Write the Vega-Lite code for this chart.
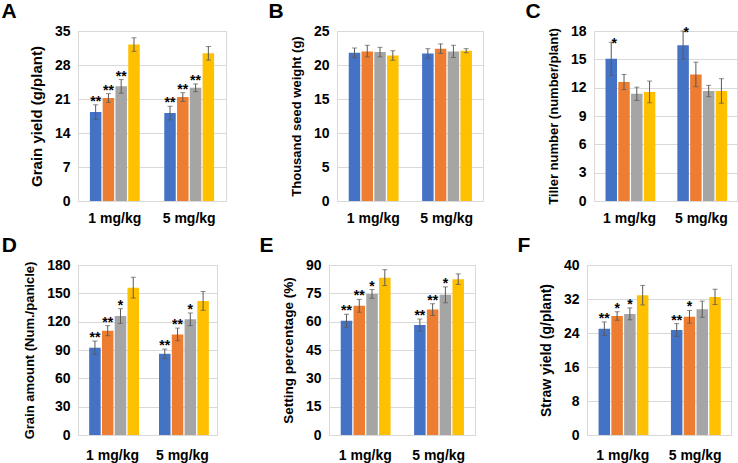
{
  "$schema": "https://vega.github.io/schema/vega-lite/v6.json",
  "padding": {"left": 0, "top": 0, "right": 0, "bottom": 0},
  "background": "white",
  "config": {
    "font": "Liberation Sans",
    "view": {"stroke": "#d9d9d9", "strokeWidth": 1},
    "axis": {"labelFont": "Liberation Sans", "labelFontWeight": "bold", "labelFontSize": 14, "labelColor": "#000000", "titleFont": "Liberation Sans", "titleFontWeight": "bold", "titleFontSize": 13.5, "titleColor": "#000000", "ticks": false, "domain": false, "gridColor": "#d9d9d9", "labelOverlap": false, "labelFlush": false},
    "axisX": {"grid": false, "labelAngle": 0, "title": null, "labelPadding": 10},
    "axisY": {"labelPadding": 8, "titlePadding": 10, "labelOverlap": false, "labelSeparation": 0},
    "title": {"font": "Liberation Sans", "fontSize": 21, "fontWeight": "bold", "anchor": "start", "frame": "bounds", "dx": -22, "offset": 2, "color": "#000000"},
    "concat": {"spacing": 40}
  },
  "datasets": {
    "d": [
      {"p": "A", "dose": "1 mg/kg", "s": 1, "v": 18.3, "lo": 16.8, "hi": 19.8, "star": "**"},
      {"p": "A", "dose": "1 mg/kg", "s": 2, "v": 21.2, "lo": 20.3, "hi": 22.1, "star": "**"},
      {"p": "A", "dose": "1 mg/kg", "s": 3, "v": 23.6, "lo": 22.2, "hi": 25.0, "star": "**"},
      {"p": "A", "dose": "1 mg/kg", "s": 4, "v": 32.2, "lo": 30.8, "hi": 33.6, "star": ""},
      {"p": "A", "dose": "5 mg/kg", "s": 1, "v": 18.1, "lo": 16.7, "hi": 19.5, "star": "**"},
      {"p": "A", "dose": "5 mg/kg", "s": 2, "v": 21.4, "lo": 20.5, "hi": 22.3, "star": "**"},
      {"p": "A", "dose": "5 mg/kg", "s": 3, "v": 23.3, "lo": 22.5, "hi": 24.1, "star": "**"},
      {"p": "A", "dose": "5 mg/kg", "s": 4, "v": 30.4, "lo": 29.0, "hi": 31.8, "star": ""},
      {"p": "B", "dose": "1 mg/kg", "s": 1, "v": 21.8, "lo": 21.1, "hi": 22.5, "star": ""},
      {"p": "B", "dose": "1 mg/kg", "s": 2, "v": 22.0, "lo": 21.2, "hi": 22.9, "star": ""},
      {"p": "B", "dose": "1 mg/kg", "s": 3, "v": 21.9, "lo": 21.2, "hi": 22.6, "star": ""},
      {"p": "B", "dose": "1 mg/kg", "s": 4, "v": 21.4, "lo": 20.7, "hi": 22.1, "star": ""},
      {"p": "B", "dose": "5 mg/kg", "s": 1, "v": 21.7, "lo": 21.0, "hi": 22.4, "star": ""},
      {"p": "B", "dose": "5 mg/kg", "s": 2, "v": 22.4, "lo": 21.7, "hi": 23.1, "star": ""},
      {"p": "B", "dose": "5 mg/kg", "s": 3, "v": 22.0, "lo": 21.1, "hi": 22.9, "star": ""},
      {"p": "B", "dose": "5 mg/kg", "s": 4, "v": 22.1, "lo": 21.8, "hi": 22.4, "star": ""},
      {"p": "C", "dose": "1 mg/kg", "s": 1, "v": 15.05, "lo": 13.3, "hi": 16.8, "star": "*"},
      {"p": "C", "dose": "1 mg/kg", "s": 2, "v": 12.6, "lo": 11.8, "hi": 13.4, "star": ""},
      {"p": "C", "dose": "1 mg/kg", "s": 3, "v": 11.35, "lo": 10.65, "hi": 12.05, "star": ""},
      {"p": "C", "dose": "1 mg/kg", "s": 4, "v": 11.55, "lo": 10.4, "hi": 12.7, "star": ""},
      {"p": "C", "dose": "5 mg/kg", "s": 1, "v": 16.5, "lo": 15.0, "hi": 18.0, "star": "*"},
      {"p": "C", "dose": "5 mg/kg", "s": 2, "v": 13.4, "lo": 12.1, "hi": 14.7, "star": ""},
      {"p": "C", "dose": "5 mg/kg", "s": 3, "v": 11.65, "lo": 11.05, "hi": 12.25, "star": ""},
      {"p": "C", "dose": "5 mg/kg", "s": 4, "v": 11.65, "lo": 10.35, "hi": 12.95, "star": ""},
      {"p": "D", "dose": "1 mg/kg", "s": 1, "v": 92.5, "lo": 85.5, "hi": 99.5, "star": "**"},
      {"p": "D", "dose": "1 mg/kg", "s": 2, "v": 110.5, "lo": 105.2, "hi": 115.8, "star": "**"},
      {"p": "D", "dose": "1 mg/kg", "s": 3, "v": 126.0, "lo": 118.2, "hi": 133.8, "star": "*"},
      {"p": "D", "dose": "1 mg/kg", "s": 4, "v": 156.0, "lo": 145.0, "hi": 167.0, "star": ""},
      {"p": "D", "dose": "5 mg/kg", "s": 1, "v": 86.0, "lo": 81.0, "hi": 91.0, "star": "**"},
      {"p": "D", "dose": "5 mg/kg", "s": 2, "v": 106.5, "lo": 99.8, "hi": 113.2, "star": "**"},
      {"p": "D", "dose": "5 mg/kg", "s": 3, "v": 122.5, "lo": 115.8, "hi": 129.2, "star": "*"},
      {"p": "D", "dose": "5 mg/kg", "s": 4, "v": 142.0, "lo": 132.0, "hi": 152.0, "star": ""},
      {"p": "E", "dose": "1 mg/kg", "s": 1, "v": 60.5, "lo": 57.1, "hi": 63.9, "star": "**"},
      {"p": "E", "dose": "1 mg/kg", "s": 2, "v": 68.4, "lo": 65.0, "hi": 71.8, "star": "**"},
      {"p": "E", "dose": "1 mg/kg", "s": 3, "v": 74.7, "lo": 72.4, "hi": 77.0, "star": "*"},
      {"p": "E", "dose": "1 mg/kg", "s": 4, "v": 83.3, "lo": 79.1, "hi": 87.5, "star": ""},
      {"p": "E", "dose": "5 mg/kg", "s": 1, "v": 58.2, "lo": 55.0, "hi": 61.4, "star": "**"},
      {"p": "E", "dose": "5 mg/kg", "s": 2, "v": 66.4, "lo": 63.3, "hi": 69.5, "star": "**"},
      {"p": "E", "dose": "5 mg/kg", "s": 3, "v": 74.2, "lo": 70.0, "hi": 78.4, "star": "*"},
      {"p": "E", "dose": "5 mg/kg", "s": 4, "v": 82.5, "lo": 79.7, "hi": 85.3, "star": ""},
      {"p": "F", "dose": "1 mg/kg", "s": 1, "v": 25.0, "lo": 23.4, "hi": 26.6, "star": "**"},
      {"p": "F", "dose": "1 mg/kg", "s": 2, "v": 28.0, "lo": 27.0, "hi": 29.0, "star": "*"},
      {"p": "F", "dose": "1 mg/kg", "s": 3, "v": 28.5, "lo": 27.1, "hi": 29.9, "star": "*"},
      {"p": "F", "dose": "1 mg/kg", "s": 4, "v": 32.9, "lo": 30.6, "hi": 35.2, "star": ""},
      {"p": "F", "dose": "5 mg/kg", "s": 1, "v": 24.7, "lo": 23.2, "hi": 26.2, "star": "**"},
      {"p": "F", "dose": "5 mg/kg", "s": 2, "v": 27.8, "lo": 26.3, "hi": 29.3, "star": "*"},
      {"p": "F", "dose": "5 mg/kg", "s": 3, "v": 29.6, "lo": 27.7, "hi": 31.5, "star": ""},
      {"p": "F", "dose": "5 mg/kg", "s": 4, "v": 32.5, "lo": 30.7, "hi": 34.3, "star": ""}
    ]
  },
  "vconcat": [
    {
      "hconcat": [
        {
          "title": {"text": "A", "dx": -28},
          "width": 148, "height": 170,
          "data": {"name": "d"},
          "transform": [{"filter": "datum.p == 'A'"}],
          "encoding": {
            "x": {"field": "dose", "type": "nominal", "scale": {"paddingInner": 0.33, "paddingOuter": 0.16}},
            "xOffset": {"field": "s", "type": "nominal", "scale": {"paddingInner": 0.1}}
          },
          "layer": [
            {"mark": {"type": "bar"}, "encoding": {
              "y": {"field": "v", "type": "quantitative", "scale": {"domain": [0, 35], "nice": false}, "axis": {"values": [0, 7, 14, 21, 28, 35], "labelOverlap": false, "tickCount": 6, "title": "Grain yield (g/plant)", "titleFontSize": 15}},
              "color": {"field": "s", "type": "nominal", "scale": {"range": ["#4472C4", "#ED7D31", "#A5A5A5", "#FFC000"]}, "legend": null}}},
            {"mark": {"type": "rule", "color": "#595959", "strokeWidth": 1}, "encoding": {"y": {"field": "lo", "type": "quantitative"}, "y2": {"field": "hi"}}},
            {"mark": {"type": "tick", "color": "#595959", "size": 5, "thickness": 1}, "encoding": {"y": {"field": "lo", "type": "quantitative"}}},
            {"mark": {"type": "tick", "color": "#595959", "size": 5, "thickness": 1}, "encoding": {"y": {"field": "hi", "type": "quantitative"}}},
            {"mark": {"type": "text", "fontSize": 14, "fontWeight": "bold", "baseline": "alphabetic", "dy": 1, "color": "#000000"}, "encoding": {"y": {"field": "hi", "type": "quantitative"}, "text": {"field": "star"}}}
          ]
        },
        {
          "title": "B",
          "width": 146, "height": 170,
          "data": {"name": "d"},
          "transform": [{"filter": "datum.p == 'B'"}],
          "encoding": {
            "x": {"field": "dose", "type": "nominal", "scale": {"paddingInner": 0.33, "paddingOuter": 0.16}},
            "xOffset": {"field": "s", "type": "nominal", "scale": {"paddingInner": 0.1}}
          },
          "layer": [
            {"mark": {"type": "bar"}, "encoding": {
              "y": {"field": "v", "type": "quantitative", "scale": {"domain": [0, 25], "nice": false}, "axis": {"values": [0, 5, 10, 15, 20, 25], "labelOverlap": false, "tickCount": 6, "title": "Thousand seed weight (g)", "titleFontSize": 13}},
              "color": {"field": "s", "type": "nominal", "scale": {"range": ["#4472C4", "#ED7D31", "#A5A5A5", "#FFC000"]}, "legend": null}}},
            {"mark": {"type": "rule", "color": "#595959", "strokeWidth": 1}, "encoding": {"y": {"field": "lo", "type": "quantitative"}, "y2": {"field": "hi"}}},
            {"mark": {"type": "tick", "color": "#595959", "size": 5, "thickness": 1}, "encoding": {"y": {"field": "lo", "type": "quantitative"}}},
            {"mark": {"type": "tick", "color": "#595959", "size": 5, "thickness": 1}, "encoding": {"y": {"field": "hi", "type": "quantitative"}}}
          ]
        },
        {
          "title": "C",
          "width": 143, "height": 170,
          "data": {"name": "d"},
          "transform": [{"filter": "datum.p == 'C'"}],
          "encoding": {
            "x": {"field": "dose", "type": "nominal", "scale": {"paddingInner": 0.33, "paddingOuter": 0.16}},
            "xOffset": {"field": "s", "type": "nominal", "scale": {"paddingInner": 0.1}}
          },
          "layer": [
            {"mark": {"type": "bar"}, "encoding": {
              "y": {"field": "v", "type": "quantitative", "scale": {"domain": [0, 18], "nice": false}, "axis": {"values": [0, 3, 6, 9, 12, 15, 18], "labelOverlap": false, "tickCount": 7, "title": "Tiller number (number/plant)", "titleFontSize": 13}},
              "color": {"field": "s", "type": "nominal", "scale": {"range": ["#4472C4", "#ED7D31", "#A5A5A5", "#FFC000"]}, "legend": null}}},
            {"mark": {"type": "rule", "color": "#595959", "strokeWidth": 1}, "encoding": {"y": {"field": "lo", "type": "quantitative"}, "y2": {"field": "hi"}}},
            {"mark": {"type": "tick", "color": "#595959", "size": 5, "thickness": 1}, "encoding": {"y": {"field": "lo", "type": "quantitative"}}},
            {"mark": {"type": "tick", "color": "#595959", "size": 5, "thickness": 1}, "encoding": {"y": {"field": "hi", "type": "quantitative"}}},
            {"mark": {"type": "text", "fontSize": 14, "fontWeight": "bold", "baseline": "alphabetic", "dy": 6, "dx": 3, "color": "#000000"}, "encoding": {"y": {"field": "hi", "type": "quantitative"}, "text": {"field": "star"}}}
          ]
        }
      ]
    },
    {
      "hconcat": [
        {
          "title": "D",
          "width": 139, "height": 170,
          "data": {"name": "d"},
          "transform": [{"filter": "datum.p == 'D'"}],
          "encoding": {
            "x": {"field": "dose", "type": "nominal", "scale": {"paddingInner": 0.33, "paddingOuter": 0.16}, "axis": {"labelPadding": 13}},
            "xOffset": {"field": "s", "type": "nominal", "scale": {"paddingInner": 0.1}}
          },
          "layer": [
            {"mark": {"type": "bar"}, "encoding": {
              "y": {"field": "v", "type": "quantitative", "scale": {"domain": [0, 180], "nice": false}, "axis": {"values": [0, 30, 60, 90, 120, 150, 180], "labelOverlap": false, "tickCount": 7, "title": "Grain amount (Num./panicle)", "titleFontSize": 13}},
              "color": {"field": "s", "type": "nominal", "scale": {"range": ["#4472C4", "#ED7D31", "#A5A5A5", "#FFC000"]}, "legend": null}}},
            {"mark": {"type": "rule", "color": "#595959", "strokeWidth": 1}, "encoding": {"y": {"field": "lo", "type": "quantitative"}, "y2": {"field": "hi"}}},
            {"mark": {"type": "tick", "color": "#595959", "size": 5, "thickness": 1}, "encoding": {"y": {"field": "lo", "type": "quantitative"}}},
            {"mark": {"type": "tick", "color": "#595959", "size": 5, "thickness": 1}, "encoding": {"y": {"field": "hi", "type": "quantitative"}}},
            {"mark": {"type": "text", "fontSize": 14, "fontWeight": "bold", "baseline": "alphabetic", "dy": 1, "color": "#000000"}, "encoding": {"y": {"field": "hi", "type": "quantitative"}, "text": {"field": "star"}}}
          ]
        },
        {
          "title": "E",
          "width": 146, "height": 170,
          "data": {"name": "d"},
          "transform": [{"filter": "datum.p == 'E'"}],
          "encoding": {
            "x": {"field": "dose", "type": "nominal", "scale": {"paddingInner": 0.33, "paddingOuter": 0.16}, "axis": {"labelPadding": 13}},
            "xOffset": {"field": "s", "type": "nominal", "scale": {"paddingInner": 0.1}}
          },
          "layer": [
            {"mark": {"type": "bar"}, "encoding": {
              "y": {"field": "v", "type": "quantitative", "scale": {"domain": [0, 90], "nice": false}, "axis": {"values": [0, 15, 30, 45, 60, 75, 90], "labelOverlap": false, "tickCount": 7, "title": "Setting percentage (%)", "titleFontSize": 13.5}},
              "color": {"field": "s", "type": "nominal", "scale": {"range": ["#4472C4", "#ED7D31", "#A5A5A5", "#FFC000"]}, "legend": null}}},
            {"mark": {"type": "rule", "color": "#595959", "strokeWidth": 1}, "encoding": {"y": {"field": "lo", "type": "quantitative"}, "y2": {"field": "hi"}}},
            {"mark": {"type": "tick", "color": "#595959", "size": 5, "thickness": 1}, "encoding": {"y": {"field": "lo", "type": "quantitative"}}},
            {"mark": {"type": "tick", "color": "#595959", "size": 5, "thickness": 1}, "encoding": {"y": {"field": "hi", "type": "quantitative"}}},
            {"mark": {"type": "text", "fontSize": 14, "fontWeight": "bold", "baseline": "alphabetic", "dy": 1, "color": "#000000"}, "encoding": {"y": {"field": "hi", "type": "quantitative"}, "text": {"field": "star"}}}
          ]
        },
        {
          "title": "F",
          "width": 144, "height": 170,
          "data": {"name": "d"},
          "transform": [{"filter": "datum.p == 'F'"}],
          "encoding": {
            "x": {"field": "dose", "type": "nominal", "scale": {"paddingInner": 0.33, "paddingOuter": 0.16}, "axis": {"labelPadding": 13}},
            "xOffset": {"field": "s", "type": "nominal", "scale": {"paddingInner": 0.1}}
          },
          "layer": [
            {"mark": {"type": "bar"}, "encoding": {
              "y": {"field": "v", "type": "quantitative", "scale": {"domain": [0, 40], "nice": false}, "axis": {"values": [0, 8, 16, 24, 32, 40], "labelOverlap": false, "tickCount": 6, "title": "Straw yield (g/plant)", "titleFontSize": 14}},
              "color": {"field": "s", "type": "nominal", "scale": {"range": ["#4472C4", "#ED7D31", "#A5A5A5", "#FFC000"]}, "legend": null}}},
            {"mark": {"type": "rule", "color": "#595959", "strokeWidth": 1}, "encoding": {"y": {"field": "lo", "type": "quantitative"}, "y2": {"field": "hi"}}},
            {"mark": {"type": "tick", "color": "#595959", "size": 5, "thickness": 1}, "encoding": {"y": {"field": "lo", "type": "quantitative"}}},
            {"mark": {"type": "tick", "color": "#595959", "size": 5, "thickness": 1}, "encoding": {"y": {"field": "hi", "type": "quantitative"}}},
            {"mark": {"type": "text", "fontSize": 14, "fontWeight": "bold", "baseline": "alphabetic", "dy": 1, "color": "#000000"}, "encoding": {"y": {"field": "hi", "type": "quantitative"}, "text": {"field": "star"}}}
          ]
        }
      ]
    }
  ],
  "spacing": 8
}
